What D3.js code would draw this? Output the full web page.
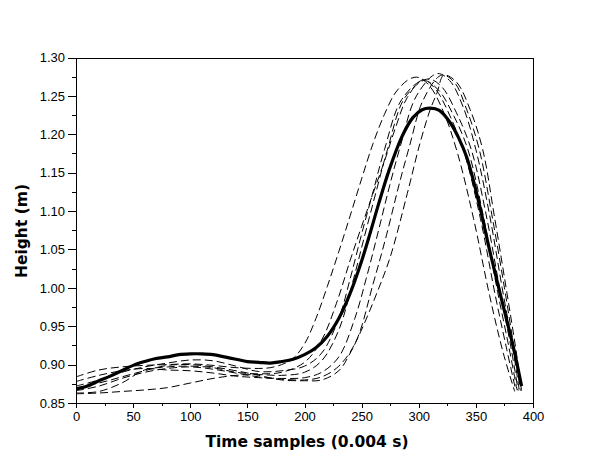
<!DOCTYPE html>
<html>
<head>
<meta charset="utf-8">
<script src="https://cdn.jsdelivr.net/npm/d3@7"></script>
<style>
  body { margin: 0; background: #fff; }
  svg { display: block; }
</style>
</head>
<body>
<svg id="chart"></svg>
<script>
// tick values
const xTicks = [0, 50, 100, 150, 200, 250, 300, 350, 400];
const xMinor = [25, 75, 125, 175, 225, 275, 325, 375];
const yTicks = [0.85, 0.90, 0.95, 1.00, 1.05, 1.10, 1.15, 1.20, 1.25, 1.30];
const yMinor = [0.875, 0.925, 0.975, 1.025, 1.075, 1.125, 1.175, 1.225, 1.275];

// single trials [sample, height]
const trialA = [[0,0.884],[20,0.893],[40,0.897],[60,0.899],[80,0.900],[100,0.901],[120,0.899],[140,0.896],[160,0.895],[170,0.896],[180,0.900],[190,0.908],[200,0.927],[210,0.960],[220,1.002],[230,1.047],[240,1.094],[250,1.142],[260,1.188],[270,1.226],[280,1.255],[292,1.272],[300,1.274],[310,1.262],[322,1.228],[334,1.175],[348,1.090],[362,0.990],[374,0.915],[384,0.865]];
const trialB = [[0,0.863],[20,0.865],[40,0.876],[60,0.893],[80,0.897],[100,0.898],[120,0.896],[140,0.890],[160,0.888],[180,0.890],[200,0.903],[215,0.932],[228,0.980],[240,1.036],[250,1.080],[260,1.123],[270,1.165],[280,1.210],[290,1.248],[304,1.271],[315,1.258],[327,1.225],[340,1.175],[354,1.090],[367,0.990],[377,0.920],[385,0.866]];
const trialC = [[0,0.872],[20,0.880],[40,0.890],[60,0.897],[80,0.902],[100,0.906],[120,0.905],[140,0.898],[160,0.891],[180,0.892],[200,0.898],[215,0.915],[230,0.960],[240,1.012],[250,1.070],[260,1.125],[270,1.180],[285,1.245],[304,1.270],[317,1.258],[330,1.226],[343,1.180],[357,1.090],[369,0.995],[379,0.922],[386,0.867]];
const trialD = [[0,0.862],[20,0.863],[40,0.865],[60,0.867],[80,0.870],[100,0.876],[120,0.882],[140,0.886],[160,0.887],[180,0.886],[200,0.890],[215,0.905],[230,0.945],[243,1.012],[253,1.070],[263,1.127],[273,1.182],[288,1.248],[308,1.272],[320,1.262],[333,1.228],[346,1.180],[359,1.095],[371,0.998],[381,0.920],[387,0.866]];
const trialE = [[0,0.878],[20,0.886],[40,0.892],[60,0.895],[80,0.893],[100,0.892],[120,0.889],[140,0.885],[160,0.883],[180,0.882],[200,0.883],[215,0.890],[230,0.910],[244,0.960],[254,1.012],[264,1.070],[274,1.130],[284,1.185],[298,1.250],[316,1.279],[327,1.270],[339,1.235],[350,1.180],[362,1.095],[373,1.000],[382,0.925],[388,0.866]];
const trialF = [[0,0.866],[20,0.872],[40,0.882],[60,0.890],[80,0.895],[100,0.897],[120,0.894],[140,0.889],[160,0.884],[180,0.881],[200,0.880],[215,0.884],[230,0.898],[245,0.930],[260,1.005],[272,1.070],[282,1.130],[292,1.185],[304,1.245],[320,1.277],[331,1.268],[342,1.232],[353,1.180],[364,1.095],[375,1.000],[383,0.925],[389,0.866]];
const trialG = [[0,0.870],[20,0.876],[40,0.884],[60,0.892],[80,0.899],[100,0.900],[120,0.897],[140,0.892],[160,0.886],[180,0.880],[200,0.879],[215,0.880],[230,0.892],[240,0.915],[251,0.949],[263,0.992],[275,1.040],[290,1.123],[301,1.188],[310,1.232],[316,1.254],[322,1.277],[333,1.268],[345,1.232],[356,1.180],[366,1.095],[377,0.995],[385,0.920],[390,0.866]];

// mean curve (thick)
const meanCurve = [[0,0.868],[10,0.872],[20,0.879],[30,0.885],[40,0.892],[50,0.899],[60,0.904],[70,0.908],[80,0.910],[90,0.913],[100,0.914],[110,0.914],[120,0.913],[130,0.910],[140,0.907],[150,0.904],[160,0.903],[170,0.902],[180,0.904],[190,0.907],[200,0.913],[210,0.922],[220,0.937],[230,0.960],[240,0.993],[250,1.035],[257,1.069],[265,1.110],[274,1.153],[285,1.196],[295,1.222],[303,1.232],[310,1.234],[318,1.231],[328,1.214],[335,1.195],[342,1.170],[352,1.115],[362,1.049],[370,1.000],[377,0.958],[384,0.915],[390,0.872]];

const trials = [trialA, trialB, trialC, trialD, trialE, trialF, trialG];

const width = 610, height = 460;
const plotLeft = 76, plotRight = 533, plotTop = 57.5, plotBottom = 403;

const svg = d3.select('#chart')
  .attr('width', width)
  .attr('height', height);

svg.append('rect').attr('width', width).attr('height', height).attr('fill', '#fff');

const x = d3.scaleLinear().domain([0, 400]).range([plotLeft, plotRight]);
const y = d3.scaleLinear().domain([0.85, 1.30]).range([plotBottom, plotTop]);

// frame (top + right)
svg.append('rect')
  .attr('x', plotLeft + 0.5).attr('y', plotTop + 0.5)
  .attr('width', plotRight - plotLeft).attr('height', plotBottom - plotTop)
  .attr('fill', 'none').attr('stroke', '#000').attr('shape-rendering', 'crispEdges');

svg.append('clipPath').attr('id', 'plot')
  .append('rect').attr('x', plotLeft).attr('y', plotTop)
  .attr('width', plotRight - plotLeft + 1).attr('height', plotBottom - plotTop + 1);

const line = d3.line()
  .x(d => x(d[0]))
  .y(d => y(d[1]))
  .curve(d3.curveCatmullRom.alpha(0.5));

const g = svg.append('g').attr('clip-path', 'url(#plot)');

g.selectAll('path.trial')
  .data(trials)
  .enter()
  .append('path')
  .attr('class', 'trial')
  .attr('d', line)
  .attr('fill', 'none')
  .attr('stroke', '#000')
  .attr('stroke-width', 1)
  .attr('stroke-dasharray', '8,4');

g.append('path')
  .attr('d', line(meanCurve))
  .attr('fill', 'none')
  .attr('stroke', '#000')
  .attr('stroke-width', 3.2);

// axes
const tickFont = '"Liberation Sans", Arial, sans-serif';

svg.append('g')
  .attr('transform', `translate(0,${plotBottom})`)
  .call(d3.axisBottom(x).tickValues(xTicks).tickSize(5).tickPadding(4).tickFormat(d3.format('d')));
svg.append('g')
  .attr('transform', `translate(0,${plotBottom})`)
  .call(d3.axisBottom(x).tickValues(xMinor).tickSize(3).tickFormat(''))
  .select('.domain').remove();

svg.append('g')
  .attr('transform', `translate(${plotLeft},0)`)
  .call(d3.axisLeft(y).tickValues(yTicks).tickSize(8).tickPadding(3).tickFormat(d3.format('.2f')));
svg.append('g')
  .attr('transform', `translate(${plotLeft},0)`)
  .call(d3.axisLeft(y).tickValues(yMinor).tickSize(4).tickFormat(''))
  .select('.domain').remove();

svg.selectAll('.tick text')
  .attr('font-family', tickFont)
  .attr('font-size', '13px')
  .attr('fill', '#000');
svg.selectAll('.tick line, .domain')
  .attr('stroke', '#000')
  .attr('shape-rendering', 'crispEdges');

// titles
svg.append('text')
  .attr('x', 307)
  .attr('y', 447)
  .attr('text-anchor', 'middle')
  .attr('font-family', '"DejaVu Sans", sans-serif')
  .attr('font-weight', 'bold')
  .attr('font-size', '15.5px')
  .text('Time samples (0.004 s)');

svg.append('text')
  .attr('transform', 'translate(27,231) rotate(-90)')
  .attr('text-anchor', 'middle')
  .attr('font-family', '"DejaVu Sans", sans-serif')
  .attr('font-weight', 'bold')
  .attr('font-size', '15.5px')
  .text('Height (m)');
</script>
</body>
</html>
